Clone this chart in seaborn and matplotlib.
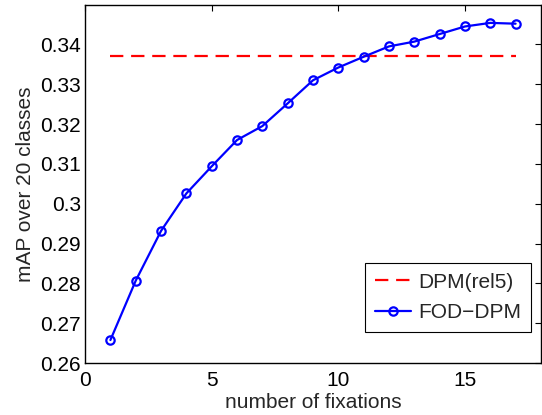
import matplotlib
matplotlib.use("Agg")
import matplotlib.pyplot as plt
import seaborn as sns
import pandas as pd

fixations = [1, 2, 3, 4, 5, 6, 7, 8, 9, 10, 11, 12, 13, 14, 15, 16, 17]
fod_dpm = [0.2658, 0.2807, 0.2932, 0.3026, 0.3094, 0.3160, 0.3195, 0.3252,
           0.3310, 0.3342, 0.3369, 0.3395, 0.3407, 0.3426, 0.3445, 0.3454, 0.3452]
dpm_rel5 = 0.337
x_ticks = [0, 5, 10, 15]
y_ticks = [0.26, 0.27, 0.28, 0.29, 0.30, 0.31, 0.32, 0.33, 0.34]
y_tick_labels = ["0.26", "0.27", "0.28", "0.29", "0.3", "0.31", "0.32", "0.33", "0.34"]

sns.set_style("white")
plt.rcParams['font.family'] = ['Liberation Sans', 'DejaVu Sans']
plt.rcParams['font.size'] = 15

df_fod = pd.DataFrame({"x": fixations, "y": fod_dpm})
df_dpm = pd.DataFrame({"x": fixations, "y": [dpm_rel5] * len(fixations)})

fig = plt.figure(figsize=(5.42, 4.15), dpi=100)
ax = fig.add_axes([0.157, 0.125, 0.841, 0.864])

sns.lineplot(data=df_dpm, x="x", y="y", ax=ax, color="#ff0000", linewidth=1.6,
             dashes=False, label="DPM(rel5)")
ax.lines[-1].set_dashes((6, 3.5))
sns.lineplot(data=df_fod, x="x", y="y", ax=ax, color="#0000ff", linewidth=1.6,
             marker="o", markersize=6, markerfacecolor="none",
             markeredgecolor="#0000ff", markeredgewidth=1.6, label="FOD\u2212DPM")

ax.set_xlim(0, 18)
ax.set_ylim(0.26, 0.35)
ax.set_xticks(x_ticks)
ax.set_xticklabels([str(t) for t in x_ticks])
ax.set_yticks(y_ticks)
ax.set_yticklabels(y_tick_labels)
ax.tick_params(axis="both", direction="in", length=4, width=0.8, top=True, right=True,
               labelsize=15, colors="black")
ax.tick_params(axis="x", pad=6)
ax.tick_params(axis="y", pad=3)
for s in ax.spines.values():
    s.set_visible(True)
    s.set_color("black")
    s.set_linewidth(1.0)

ax.set_xlabel("number of fixations", fontsize=15, labelpad=2)
ax.set_ylabel("mAP over 20 classes", fontsize=15, labelpad=4)

leg = ax.legend(loc="lower right", bbox_to_anchor=(0.978, 0.088), fontsize=15,
                frameon=True, fancybox=False, edgecolor="black", framealpha=1,
                handlelength=1.75, handletextpad=0.35, borderpad=0.45,
                labelspacing=0.55, borderaxespad=0)
leg.get_frame().set_linewidth(0.8)

fig.savefig("out.png", dpi=100)
